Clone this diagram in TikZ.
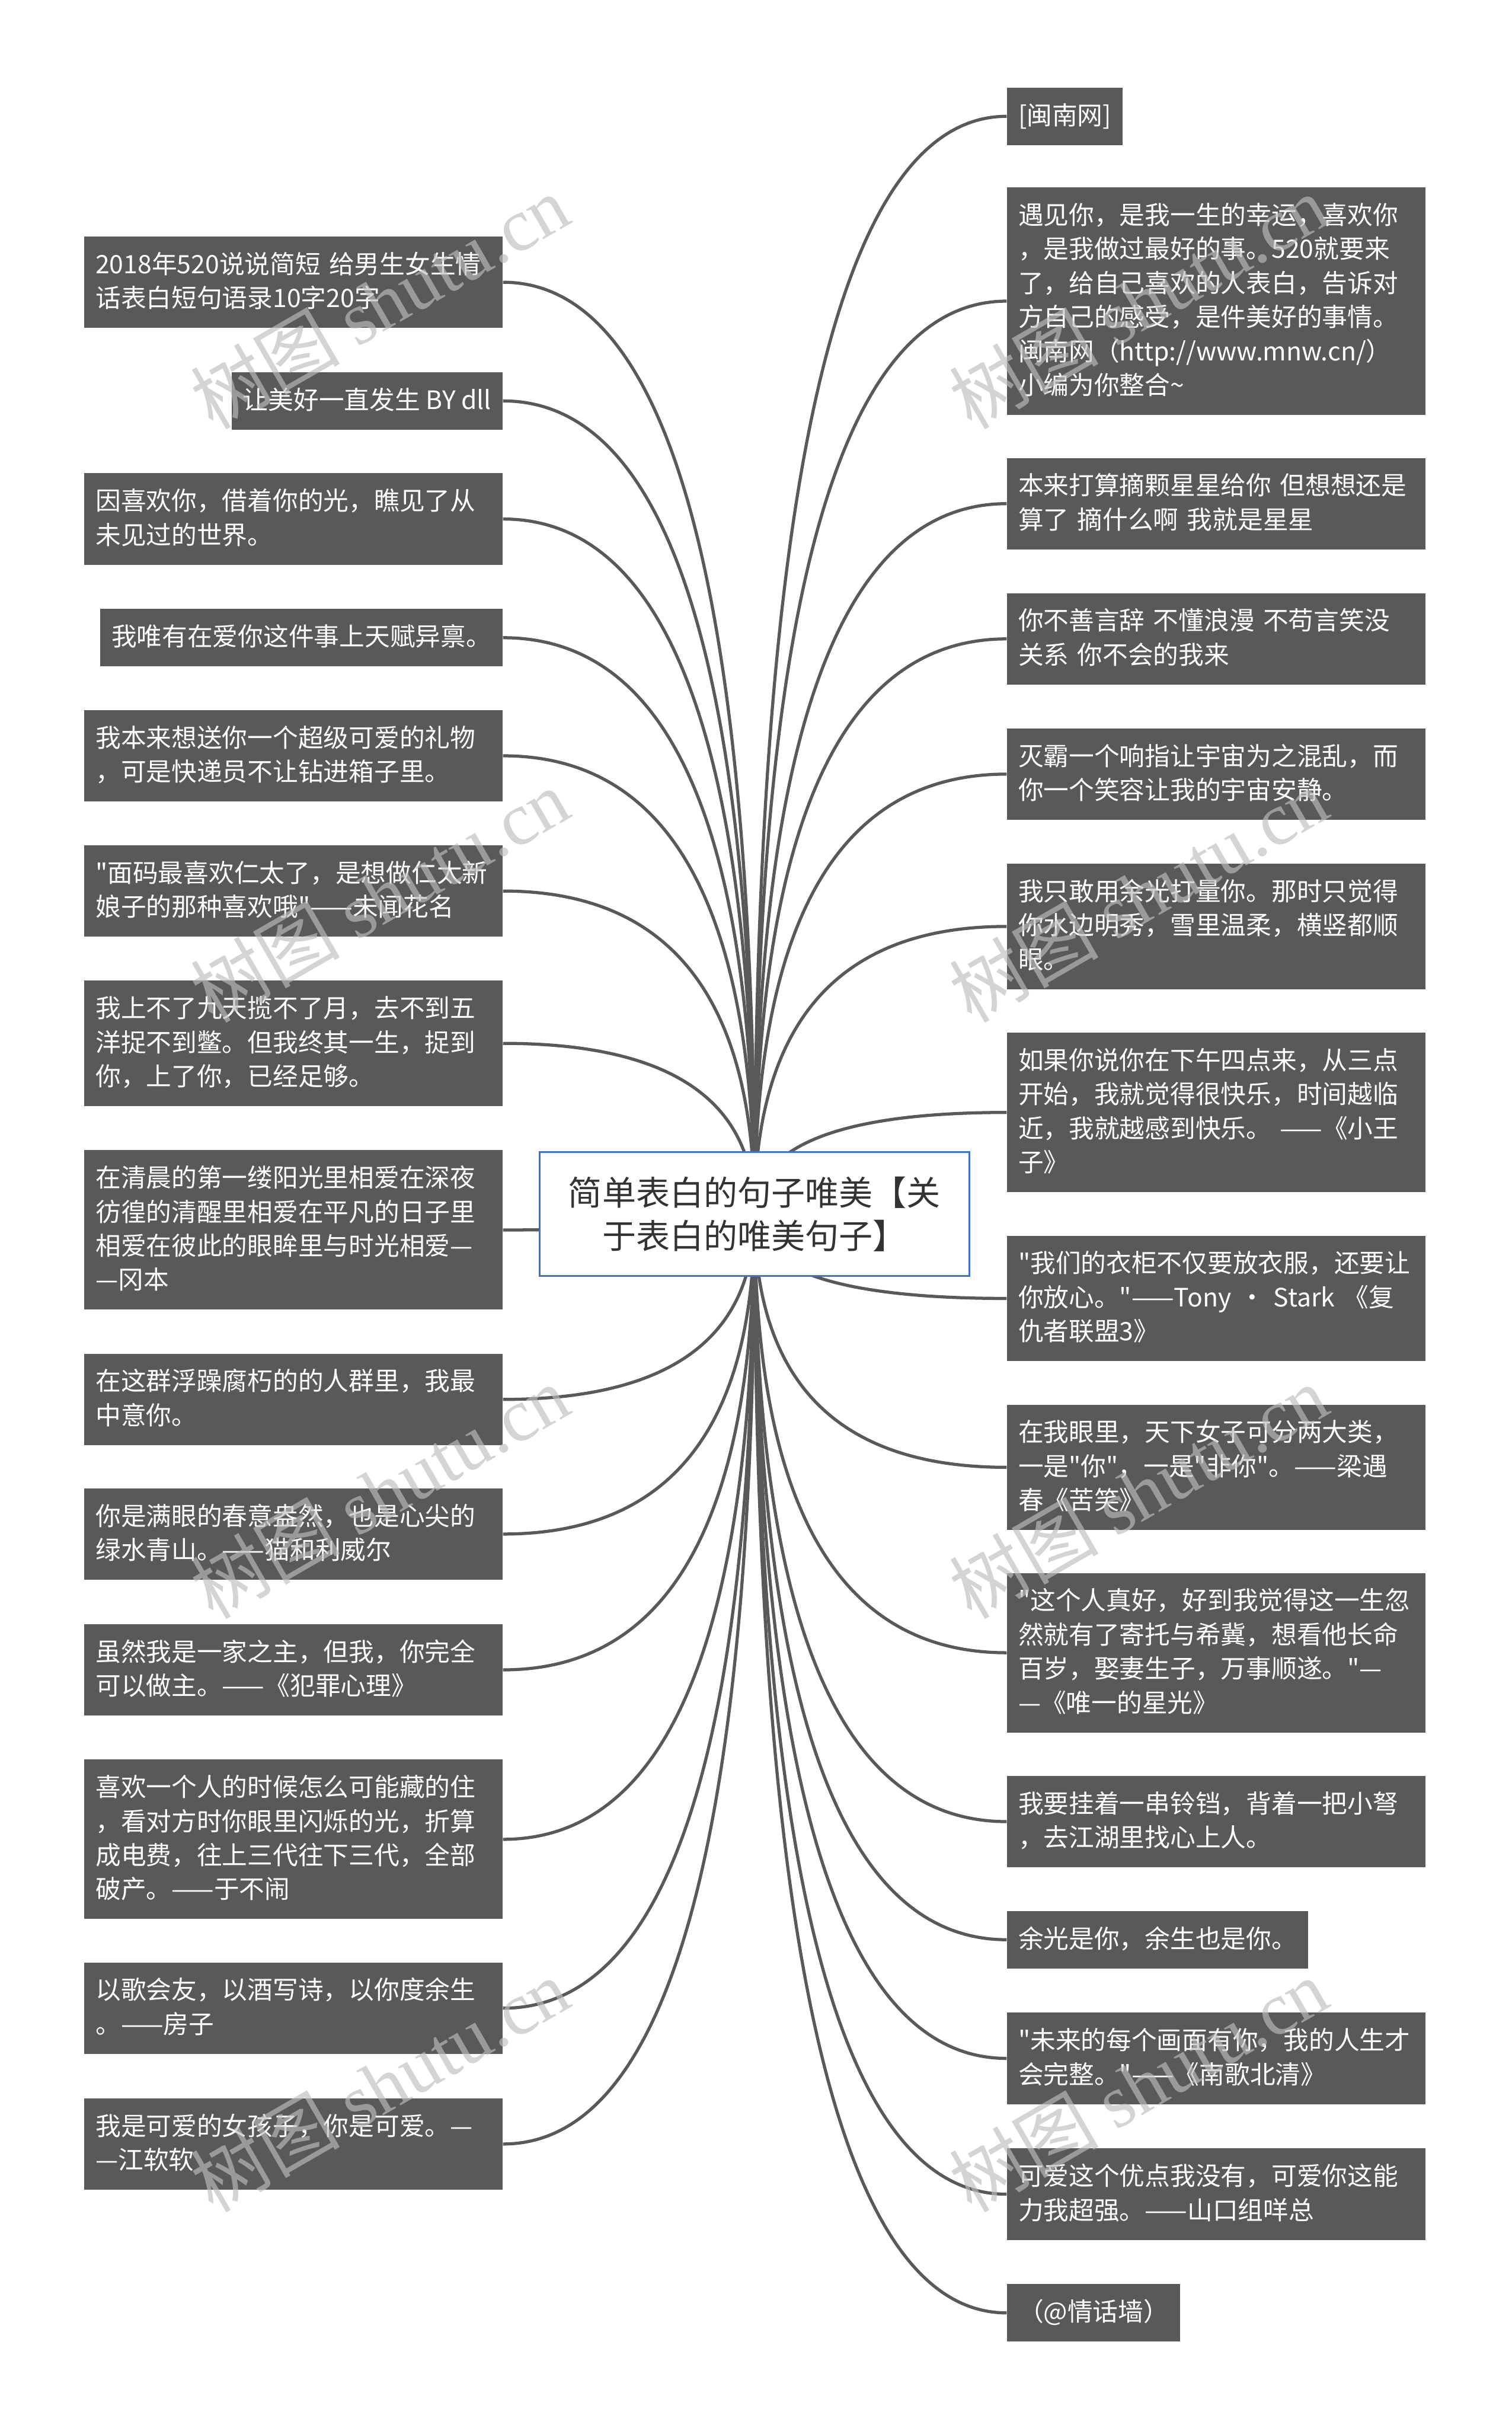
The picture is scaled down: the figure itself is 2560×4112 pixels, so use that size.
\documentclass[tikz,border=0pt]{standalone}
\usepackage{fontspec}
\setmainfont{Noto Sans CJK SC}[Ligatures=TeXOff]
\newfontfamily\wmserif{Liberation Serif}
\usepackage{xcolor}
\usetikzlibrary{calc, backgrounds}
\definecolor{leafgray}{RGB}{89,89,89}
\definecolor{titleblue}{RGB}{62,115,205}
\definecolor{titleink}{RGB}{51,51,51}
\definecolor{wmgray}{RGB}{190,190,190}
\tikzset{
  leafbase/.style={fill=leafgray, text=white, inner xsep=0.19cm, inner ysep=6.8pt,
    font=\fontsize{12.2}{16.4}\selectfont,
    execute at begin node={\rule{0pt}{0.9em}},
    execute at end node={\rule[-0.25em]{0pt}{0pt}}},
  leaf/.style={leafbase, text width=6.7cm, align=left},
  leafshort/.style={leafbase},
  titlebox/.style={draw=titleblue, line width=1pt, fill=white, text=titleink,
    minimum width=7.27cm, minimum height=2.1cm, align=center,
    font=\fontsize{16.3}{20.8}\selectfont},
  link/.style={draw=leafgray, line width=1.5pt},
  wmark/.style={text=wmgray, text opacity=0.65, rotate=30, font=\fontsize{36}{40}\selectfont}
}
\begin{document}
\begin{tikzpicture}[x=0.01cm, y=-0.01cm]
        \useasboundingbox (0,0) rectangle (2560,4112);

        % Centre
        \node[titlebox] (title) at (1278,2056) {简单表白的句子唯美【关\\于表白的唯美句子】};

        % Left branch
        \node[leaf, anchor=east] (l1) at (852,478) {2018年520说说简短 给男生女生情\\话表白短句语录10字20字};
        \node[leafshort, anchor=east] (l2) at (852,679) {让美好一直发生 BY dll};
        \node[leaf, anchor=east] (l3) at (852,879) {因喜欢你，借着你的光，瞧见了从\\未见过的世界。};
        \node[leafshort, anchor=east] (l4) at (852,1080) {我唯有在爱你这件事上天赋异禀。};
        \node[leaf, anchor=east] (l5) at (852,1280) {我本来想送你一个超级可爱的礼物\\，可是快递员不让钻进箱子里。};
        \node[leaf, anchor=east] (l6) at (852,1509) {"面码最喜欢仁太了，是想做仁太新\\娘子的那种喜欢哦"——未闻花名};
        \node[leaf, anchor=east] (l7) at (852,1767) {我上不了九天揽不了月，去不到五\\洋捉不到鳖。但我终其一生，捉到\\你，上了你，已经足够。};
        \node[leaf, anchor=east] (l8) at (852,2083) {在清晨的第一缕阳光里相爱在深夜\\彷徨的清醒里相爱在平凡的日子里\\相爱在彼此的眼眸里与时光相爱—\\—冈本};
        \node[leaf, anchor=east] (l9) at (852,2370) {在这群浮躁腐朽的的人群里，我最\\中意你。};
        \node[leaf, anchor=east] (l10) at (852,2598) {你是满眼的春意盎然，也是心尖的\\绿水青山。——猫和利威尔};
        \node[leaf, anchor=east] (l11) at (852,2828) {虽然我是一家之主，但我，你完全\\可以做主。——《犯罪心理》};
        \node[leaf, anchor=east] (l12) at (852,3115) {喜欢一个人的时候怎么可能藏的住\\，看对方时你眼里闪烁的光，折算\\成电费，往上三代往下三代，全部\\破产。——于不闹};
        \node[leaf, anchor=east] (l13) at (852,3401) {以歌会友，以酒写诗，以你度余生\\。——房子};
        \node[leaf, anchor=east] (l14) at (852,3631) {我是可爱的女孩子，你是可爱。—\\—江软软};

        % Right branch
        \node[leafshort, anchor=west] (r1) at (1705,197) {[闽南网]};
        \node[leaf, anchor=west] (r2) at (1705,510) {遇见你，是我一生的幸运，喜欢你\\，是我做过最好的事。520就要来\\了，给自己喜欢的人表白，告诉对\\方自己的感受，是件美好的事情。\\闽南网（http://www.mnw.cn/）\\小编为你整合\textasciitilde};
        \node[leaf, anchor=west] (r3) at (1705,853) {本来打算摘颗星星给你 但想想还是\\算了 摘什么啊 我就是星星};
        \node[leaf, anchor=west] (r4) at (1705,1082) {你不善言辞 不懂浪漫 不苟言笑没\\关系 你不会的我来};
        \node[leaf, anchor=west] (r5) at (1705,1311) {灭霸一个响指让宇宙为之混乱，而\\你一个笑容让我的宇宙安静。};
        \node[leaf, anchor=west] (r6) at (1705,1569) {我只敢用余光打量你。那时只觉得\\你水边明秀，雪里温柔，横竖都顺\\眼。};
        \node[leaf, anchor=west] (r7) at (1705,1884) {如果你说你在下午四点来，从三点\\开始，我就觉得很快乐，时间越临\\近，我就越感到快乐。 ——《小王\\子》};
        \node[leaf, anchor=west] (r8) at (1705,2199) {"我们的衣柜不仅要放衣服，还要让\\你放心。"——Tony • Stark 《复\\仇者联盟3》};
        \node[leaf, anchor=west] (r9) at (1705,2485) {在我眼里，天下女子可分两大类，\\一是"你"，一是"非你"。——梁遇\\春《苦笑》};
        \node[leaf, anchor=west] (r10) at (1705,2799) {"这个人真好，好到我觉得这一生忽\\然就有了寄托与希冀，想看他长命\\百岁，娶妻生子，万事顺遂。"—\\—《唯一的星光》};
        \node[leaf, anchor=west] (r11) at (1705,3085) {我要挂着一串铃铛，背着一把小弩\\，去江湖里找心上人。};
        \node[leafshort, anchor=west] (r12) at (1705,3285) {余光是你，余生也是你。};
        \node[leaf, anchor=west] (r13) at (1705,3486) {"未来的每个画面有你，我的人生才\\会完整。"——《南歌北清》};
        \node[leaf, anchor=west] (r14) at (1705,3716) {可爱这个优点我没有，可爱你这能\\力我超强。——山口组咩总};
        \node[leafshort, anchor=west] (r15) at (1705,3917) {（@情话墙）};

        % Links behind the boxes
        \begin{scope}[on background layer]
            \fill[white] (0,0) rectangle (2560,4112);
            \foreach \i in {1,...,14}
                \draw[link] (title.center) .. controls ($(title.center)!2/3!(title.center |- l\i.east)$) and ($(l\i.east)!2/3!(title.center |- l\i.east)$) .. (l\i.east);
            \foreach \i in {1,...,15}
                \draw[link] (title.center) .. controls ($(title.center)!2/3!(title.center |- r\i.west)$) and ($(r\i.west)!2/3!(title.center |- r\i.west)$) .. (r\i.west);
        \end{scope}

        % Watermark
        \foreach \wx in {643,1928}
            \foreach \wy in {511,1516,2526,3531}
                \node[wmark] (wm\wx-\wy) at (\wx,\wy) {树图 {\wmserif shutu.cn}};
\end{tikzpicture}
\end{document}
